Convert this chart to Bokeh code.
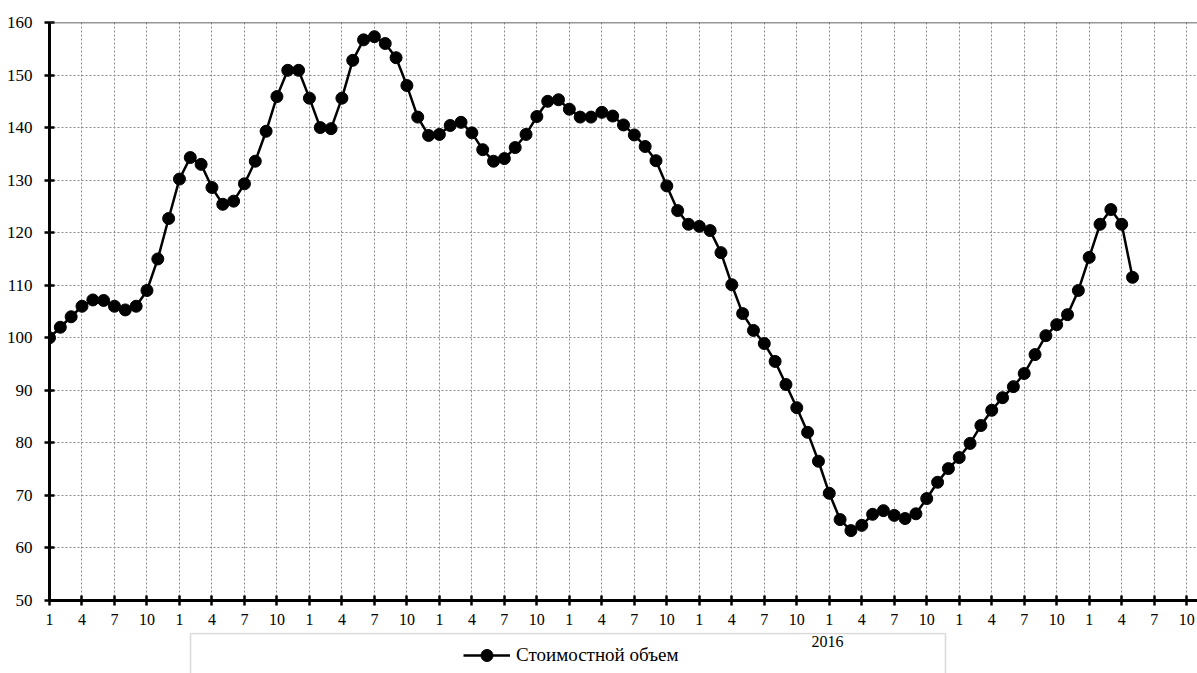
from bokeh.plotting import figure
from bokeh.layouts import column
from bokeh.models import (Range1d, FixedTicker, Legend, LegendItem, BoxAnnotation,
                          Label, Span, ColumnDataSource)
from bokeh.embed import file_html
from bokeh.resources import INLINE

# Monthly index values (Jan of first year = 100)
values = [
    100.0, 102.0, 104.0, 106.0, 107.2, 107.1, 106.0, 105.3, 106.0, 109.0,
    115.0, 122.7, 130.2, 134.3, 133.0, 128.6, 125.4, 126.0, 129.3, 133.6,
    139.3, 145.9, 150.9, 150.9, 145.6, 140.0, 139.8, 145.6, 152.8, 156.7,
    157.3, 156.0, 153.3, 148.0, 142.0, 138.5, 138.7, 140.4, 141.0, 139.0,
    135.8, 133.6, 134.1, 136.2, 138.7, 142.1, 145.0, 145.3, 143.5, 142.0,
    142.0, 142.9, 142.2, 140.5, 138.6, 136.4, 133.7, 128.9, 124.2, 121.6,
    121.2, 120.4, 116.2, 110.1, 104.6, 101.4, 98.9, 95.5, 91.1, 86.7,
    82.0, 76.5, 70.4, 65.4, 63.3, 64.3, 66.4, 67.1, 66.2, 65.6,
    66.5, 69.4, 72.5, 75.1, 77.2, 79.9, 83.3, 86.2, 88.6, 90.7,
    93.2, 96.8, 100.4, 102.5, 104.4, 109.0, 115.3, 121.6, 124.4, 121.6,
    111.5,
]
month_index = list(range(len(values)))

tick_positions = list(range(0, 106, 3))
tick_labels = ["1", "4", "7", "10"] * 9
y_ticks = [50, 60, 70, 80, 90, 100, 110, 120, 130, 140, 150, 160]
series_name = "Стоимостной объем"
year_label = "2016"

FONT = "Times New Roman, Liberation Serif, serif"

src = ColumnDataSource(dict(x=month_index, y=values))

# ---------------- main chart ----------------
p = figure(width=1197, height=632, output_backend="svg", toolbar_location=None,
           x_range=Range1d(0, 106.0), y_range=Range1d(50, 160),
           min_border_left=49, min_border_right=0, min_border_top=22,
           min_border_bottom=32)
p.outline_line_color = None
p.background_fill_color = "white"
p.border_fill_color = "white"

for g in (p.xgrid, p.ygrid):
    g.grid_line_color = "#8a8a8a"
    g.grid_line_dash = "2 2"
    g.grid_line_width = 1
p.xgrid.ticker = FixedTicker(ticks=tick_positions)
p.ygrid.ticker = FixedTicker(ticks=y_ticks)

p.xaxis.ticker = FixedTicker(ticks=tick_positions)
p.xaxis.major_label_overrides = {t: l for t, l in zip(tick_positions, tick_labels)}
p.yaxis.ticker = FixedTicker(ticks=y_ticks)
for ax in (p.xaxis, p.yaxis):
    ax.axis_line_color = "black"
    ax.axis_line_width = 3
    ax.major_tick_line_color = "black"
    ax.major_tick_line_width = 2.5
    ax.major_tick_in = 5
    ax.major_tick_out = 5
    ax.minor_tick_line_color = None
    ax.major_label_text_font = FONT
    ax.major_label_text_color = "black"
p.xaxis.major_label_text_font_size = "16px"
p.yaxis.major_label_text_font_size = "17px"
p.yaxis.major_label_standoff = 12
p.xaxis.major_label_standoff = 8

top_line = Span(location=160, dimension="width", line_color="#333333", line_width=1.5)
p.add_layout(top_line)

p.line("x", "y", source=src, line_color="black", line_width=2.5)
p.scatter("x", "y", source=src, marker="circle", size=12,
          fill_color="black", line_color="black")

# ---------------- legend strip (frame aligned with chart frame: page x 49..1197) ----------------
leg = figure(width=1197, height=41, output_backend="svg", toolbar_location=None,
             x_range=Range1d(49, 1197), y_range=Range1d(0, 41),
             x_axis_location=None, y_axis_location=None,
             min_border_left=49, min_border_right=0, min_border_top=0,
             min_border_bottom=0)
leg.grid.visible = False
leg.outline_line_color = None
leg.background_fill_color = "white"
leg.border_fill_color = "white"

box = BoxAnnotation(left=190, right=945, top=40, bottom=-20,
                    fill_color="white", fill_alpha=1.0,
                    line_color="#808080", line_width=1.5)
leg.add_layout(box)

yr = Label(x=811, y=32, text=year_label,
           text_font=FONT, text_font_size="16px", text_baseline="middle",
           text_color="black")
leg.add_layout(yr)

# hidden copies of the series, used only for the legend sample
l_line = leg.line("x", "y", source=src, line_color="black", line_width=2.5, visible=False)
l_dot = leg.scatter("x", "y", source=src, marker="circle", size=12,
                    fill_color="black", line_color="black", visible=False)

legend = Legend(items=[LegendItem(label=series_name, renderers=[l_line, l_dot])],
                location=(414, 3), padding=0, margin=0, spacing=0,
                glyph_width=47, glyph_height=30, label_height=30,
                label_standoff=6, border_line_color=None,
                background_fill_alpha=0.0,
                label_text_font=FONT, label_text_font_size="19px",
                label_text_color="black")
leg.add_layout(legend, "center")

layout = column(p, leg, spacing=0)
open("out.html", "w").write(file_html(layout, INLINE))
